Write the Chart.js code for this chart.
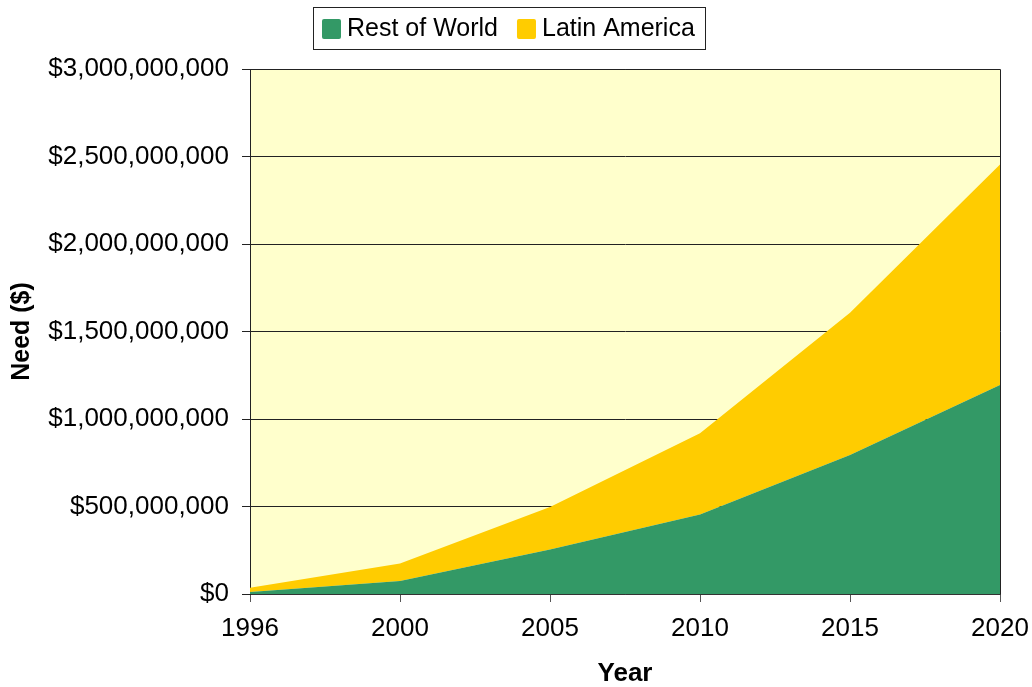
<!DOCTYPE html>
<html>
<head>
<meta charset="utf-8">
<title>Need by Year</title>
<script src="https://cdn.jsdelivr.net/npm/chart.js@4/dist/chart.umd.min.js"></script>
<style>
    body { margin: 0; background: #ffffff; }
    #wrap { width: 1032px; height: 687px; position: relative; }
</style>
</head>
<body>
<div id="wrap"><canvas id="need-chart"></canvas></div>
<script>
// Chart data (values in dollars)
const years = ['1996', '2000', '2005', '2010', '2015', '2020'];
const restOfWorld = [12000000, 75000000, 255000000, 455000000, 795000000, 1195000000];
const latinAmerica = [24000000, 100000000, 242000000, 463000000, 812000000, 1260000000];
const yTicks = [0, 500000000, 1000000000, 1500000000, 2000000000, 2500000000, 3000000000];

const FONT = '"Liberation Sans", Arial, sans-serif';

// Format a number as $1,000,000
function dollars(value) {
    return '$' + Number(value).toLocaleString('en-US');
}

// Light yellow plot background plus the top/right frame
const plotFrame = {
    id: 'plotFrame',
    beforeDraw(chart) {
        const { ctx, chartArea: a } = chart;
        ctx.save();
        ctx.fillStyle = '#ffffcc';
        ctx.fillRect(a.left, a.top, a.right - a.left, a.bottom - a.top);
        ctx.restore();
    },
    beforeDatasetsDraw(chart) {
        const { ctx, chartArea: a } = chart;
        ctx.save();
        ctx.strokeStyle = '#222222';
        ctx.lineWidth = 1;
        ctx.beginPath();
        ctx.moveTo(a.left, a.top + 0.5);
        ctx.lineTo(a.right + 0.5, a.top + 0.5);
        ctx.lineTo(a.right + 0.5, a.bottom);
        ctx.stroke();
        ctx.restore();
    }
};

// Boxed legend at the top
const boxLegend = {
    id: 'boxLegend',
    afterDraw(chart) {
        const ctx = chart.ctx;
        ctx.save();
        ctx.font = '25px ' + FONT;
        ctx.textBaseline = 'middle';
        ctx.strokeStyle = '#222222';
        ctx.lineWidth = 1;
        ctx.strokeRect(313.5, 7.5, 392, 42);

        let x = 322;
        chart.data.datasets.forEach(ds => {
            ctx.fillStyle = ds.backgroundColor;
            ctx.beginPath();
            ctx.roundRect(x, 19, 19, 20, 2);
            ctx.fill();
            x += 25;
            ctx.fillStyle = '#000000';
            ctx.fillText(ds.label, x, 29);
            x += ctx.measureText(ds.label).width + 19;
        });
        ctx.restore();
    }
};

const ctx = document.getElementById('need-chart').getContext('2d');
const chart = new Chart(ctx, {
    type: 'line',
    data: {
        labels: years,
        datasets: [{
            label: 'Rest of World',
            data: restOfWorld,
            backgroundColor: '#339966',
            borderWidth: 0,
            pointRadius: 0,
            fill: 'origin'
        }, {
            label: 'Latin America',
            data: latinAmerica,
            backgroundColor: '#ffcc00',
            borderWidth: 0,
            pointRadius: 0,
            fill: '-1'
        }]
    },
    options: {
        responsive: true,
        maintainAspectRatio: false,
        animation: false,
        layout: { padding: { top: 69, right: 32, left: 0, bottom: 0 } },
        plugins: {
            legend: { display: false },
            tooltip: { enabled: false }
        },
        scales: {
            x: {
                offset: false,
                grid: {
                    display: true,
                    drawOnChartArea: false,
                    tickLength: 8,
                    color: '#555555'
                },
                border: { color: '#333333' },
                ticks: {
                    color: '#000000',
                    padding: 11,
                    maxRotation: 0,
                    font: { family: FONT, size: 26 }
                },
                title: {
                    display: true,
                    text: 'Year',
                    color: '#000000',
                    padding: { top: 0, bottom: 0 },
                    font: { family: FONT, size: 26, weight: 'bold', lineHeight: 1 }
                },
                afterFit(scale) {
                    scale.height = 93;
                    scale.paddingLeft = 0;
                    scale.paddingRight = 0;
                }
            },
            y: {
                stacked: true,
                min: 0,
                max: 3000000000,
                afterBuildTicks(scale) {
                    scale.ticks = yTicks.map(v => ({ value: v }));
                },
                grid: {
                    color: '#222222',
                    tickLength: 8
                },
                border: { color: '#222222' },
                ticks: {
                    color: '#000000',
                    padding: 13,
                    font: { family: FONT, size: 26 },
                    callback: value => dollars(value)
                },
                title: {
                    display: true,
                    text: 'Need ($)',
                    color: '#000000',
                    padding: { top: 10, bottom: 0 },
                    font: { family: FONT, size: 25, weight: 'bold', lineHeight: 1 }
                },
                afterFit(scale) { scale.width = 250; }
            }
        }
    },
    plugins: [plotFrame, boxLegend]
});
</script>
</body>
</html>
